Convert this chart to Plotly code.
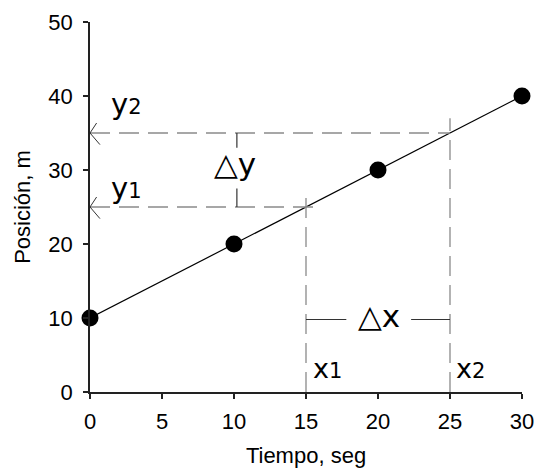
import plotly.graph_objects as go

# Data
tiempo = [0, 10, 20, 30]
posicion = [10, 20, 30, 40]

x_ticks = [0, 5, 10, 15, 20, 25, 30]
y_ticks = [0, 10, 20, 30, 40, 50]

# reference points for the slope construction
x1, x2 = 15, 25
y1, y2 = 25, 35

fig = go.Figure()
fig.add_trace(go.Scatter(
    x=tiempo, y=posicion, mode="lines+markers",
    line=dict(color="black", width=1.2),
    marker=dict(color="black", size=17),
    cliponaxis=False, showlegend=False,
))

gray = "#8a8a8a"
dash = "20px,9px"
shapes = []
# horizontal dashed lines
shapes.append(dict(type="line", x0=0, x1=x2, y0=y2, y1=y2, line=dict(color=gray, width=1.3, dash=dash)))
shapes.append(dict(type="line", x0=0, x1=15.8, y0=y1, y1=y1, line=dict(color=gray, width=1.3, dash=dash)))
# vertical dashed lines
shapes.append(dict(type="line", x0=x2, x1=x2, y0=0, y1=37, line=dict(color=gray, width=1.3, dash=dash)))
shapes.append(dict(type="line", x0=x1, x1=x1, y0=0, y1=26.3, line=dict(color=gray, width=1.3, dash=dash)))
# delta y bracket
blk = "#333333"
shapes.append(dict(type="line", x0=10.2, x1=10.2, y0=y2, y1=33.0, line=dict(color=blk, width=1.2)))
shapes.append(dict(type="line", x0=10.2, x1=10.2, y0=27.5, y1=y1, line=dict(color=blk, width=1.2)))
# delta x bracket
shapes.append(dict(type="line", x0=x1, x1=17.8, y0=9.8, y1=9.8, line=dict(color=blk, width=1.2)))
shapes.append(dict(type="line", x0=22.3, x1=x2, y0=9.8, y1=9.8, line=dict(color=blk, width=1.2)))
# arrow heads at y axis
for yy in (y1, y2):
    shapes.append(dict(type="line", x0=0, x1=0.46, y0=yy, y1=yy + 1.35, line=dict(color=blk, width=1)))
    shapes.append(dict(type="line", x0=0, x1=0.69, y0=yy, y1=yy - 1.57, line=dict(color=blk, width=1)))

af = dict(family="DejaVu Sans", color="black")
annotations = [
    dict(x=2.5, y=38.9, text='<span style="font-size:29px">y</span><span style="font-size:21px">2</span>'),
    dict(x=2.55, y=27.6, text='<span style="font-size:29px">y</span><span style="font-size:21px">1</span>'),
    dict(x=10.05, y=30.8, text='<span style="font-size:31px">△</span><span style="font-size:31px">y</span>'),
    dict(x=20.1, y=10.3, text='<span style="font-size:31px">△</span><span style="font-size:31px">x</span>'),
    dict(x=16.5, y=3.2, text='<span style="font-size:27px">x</span><span style="font-size:21px">1</span>'),
    dict(x=26.45, y=3.2, text='<span style="font-size:27px">x</span><span style="font-size:21px">2</span>'),
]
for a in annotations:
    a.update(xref="x", yref="y", showarrow=False, font=af)

axis_common = dict(
    showline=True, linecolor="#222222", linewidth=1.5,
    ticks="outside", ticklen=5, tickcolor="#222222", tickwidth=1.5,
    showgrid=False, zeroline=False, automargin=False,
    ticklabeloverflow="allow",
    tickfont=dict(family="Liberation Sans", size=22, color="black"),
    title_font=dict(family="Liberation Sans", size=22, color="black"),
)

fig.update_layout(
    width=534, height=472,
    margin=dict(l=90, r=12, t=22, b=80),
    paper_bgcolor="white", plot_bgcolor="white",
    shapes=shapes, annotations=annotations,
    xaxis=dict(range=[0, 30], tickvals=x_ticks, title=dict(text="Tiempo, seg", standoff=14),
               ticklabelstandoff=4, **axis_common),
    yaxis=dict(range=[0, 50], tickvals=y_ticks, title=dict(text="Posición, m", standoff=12),
               ticklabelstandoff=6, **axis_common),
)

fig.write_html(
    "out.html",
    config={"displayModeBar": False},
    post_script="document.body.style.margin='0';document.body.style.overflow='hidden';",
)
